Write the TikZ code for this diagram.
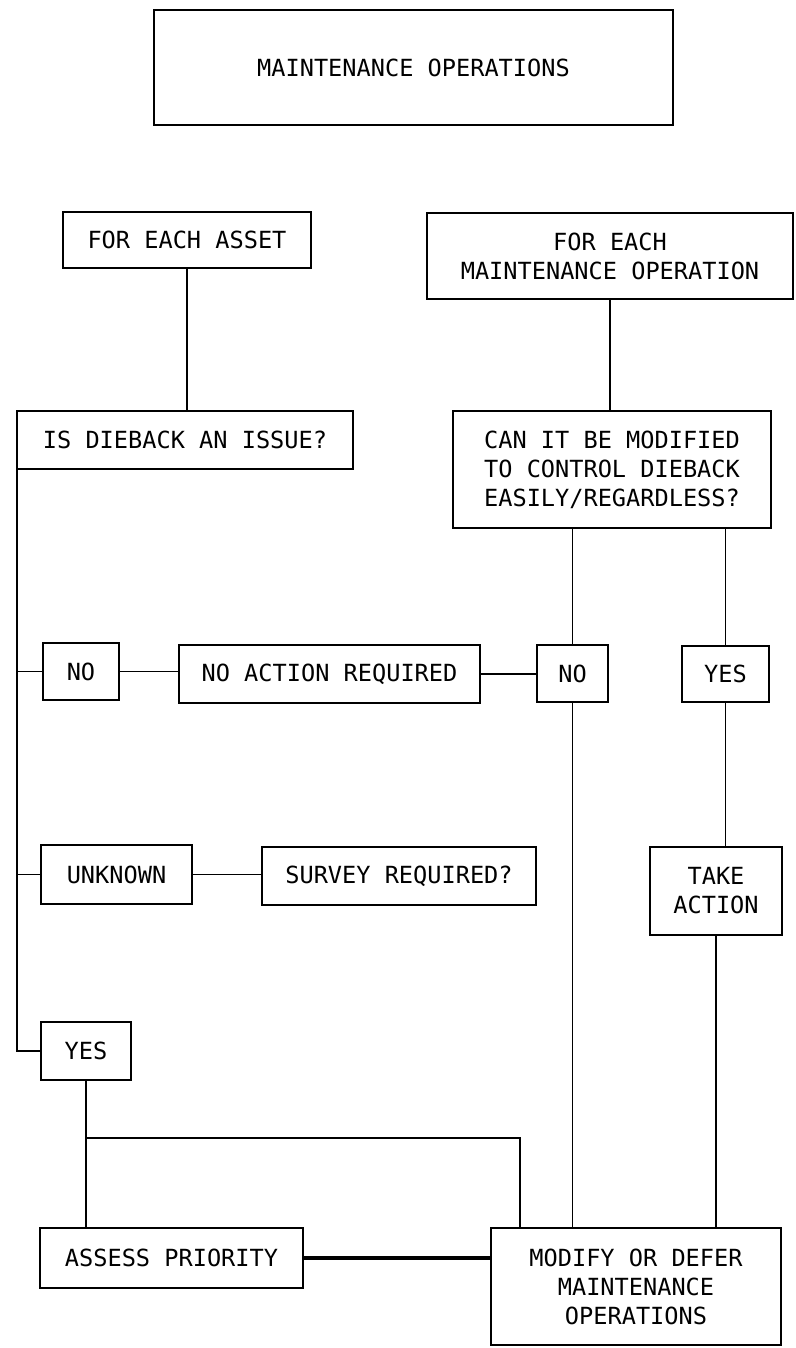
\documentclass[tikz,border=0pt]{standalone}
\usepackage{fontspec}
\newfontfamily\typefont{DejaVu Sans Mono}
\usetikzlibrary{calc}
\begin{document}
\begin{tikzpicture}[x=1pt,y=-1pt,
  box/.style={draw, line width=1.2pt, inner sep=0pt, outer sep=0pt, anchor=north west,
    align=center, font=\typefont\fontsize{23.6}{29}\selectfont},
  link/.style={line width=1.3pt},
  thicklink/.style={line width=3.5pt}]
\useasboundingbox (0,0) rectangle (795,1348);
\node[box, minimum width=519pt, minimum height=115pt] (title) at (154,10) {MAINTENANCE OPERATIONS};
\node[box, minimum width=248pt, minimum height=56pt] (asset) at (63,212) {FOR EACH ASSET};
\node[box, minimum width=366pt, minimum height=86pt] (maint) at (427,213) {FOR EACH\\MAINTENANCE OPERATION};
\node[box, minimum width=336pt, minimum height=58pt] (issue) at (17,411) {IS DIEBACK AN ISSUE?};
\node[box, minimum width=318pt, minimum height=117pt] (can) at (453,411) {CAN IT BE MODIFIED\\TO CONTROL DIEBACK\\EASILY/REGARDLESS?};
\node[box, minimum width=76pt, minimum height=57pt] (noL) at (43,643) {NO};
\node[box, minimum width=301pt, minimum height=58pt] (noact) at (179,645) {NO ACTION REQUIRED};
\node[box, minimum width=71pt, minimum height=57pt] (noR) at (537,645) {NO};
\node[box, minimum width=87pt, minimum height=56pt] (yesR) at (682,646) {YES};
\node[box, minimum width=151pt, minimum height=59pt] (unknown) at (41,845) {UNKNOWN};
\node[box, minimum width=274pt, minimum height=58pt] (survey) at (262,847) {SURVEY REQUIRED?};
\node[box, minimum width=132pt, minimum height=88pt] (take) at (650,847) {TAKE\\ACTION};
\node[box, minimum width=90pt, minimum height=58pt] (yesL) at (41,1022) {YES};
\node[box, minimum width=263pt, minimum height=60pt] (assess) at (40,1228) {ASSESS PRIORITY};
\node[box, minimum width=290pt, minimum height=117pt] (modify) at (491,1228) {MODIFY OR DEFER\\MAINTENANCE\\OPERATIONS};

\draw[link] (asset.south) -- (asset.south |- issue.north);
\draw[link] (maint.south) -- (maint.south |- can.north);
\draw[link] (issue.south west) -- (issue.south west |- yesL.west) -- (yesL.west);
\draw[link] (issue.south west |- noL.west) -- (noL.west);
\draw[link] (issue.south west |- unknown.west) -- (unknown.west);
\draw[link] (noL.east) -- (noL.east -| noact.west);
\draw[link] (noact.east) -- (noact.east -| noR.west);
\draw[link] (unknown.east) -- (unknown.east -| survey.west);
\draw[link] (can.south -| noR.north) -- (noR.north);
\draw[link] (can.south -| yesR.north) -- (yesR.north);
\draw[link] (yesR.south) -- (yesR.south |- take.north);
\draw[link] (noR.south) -- (noR.south |- modify.north);
\draw[link] (take.south) -- (take.south |- modify.north);
\draw[link] (yesL.south) -- (yesL.south |- assess.north);
\coordinate (split) at ($(yesL.south)+(0,58)$);
\coordinate (mtop) at ($(modify.north west)+(29,0)$);
\draw[link] (split) -| (mtop);
\draw[thicklink] (assess.east) -- (assess.east -| modify.west);
\end{tikzpicture}
\end{document}
